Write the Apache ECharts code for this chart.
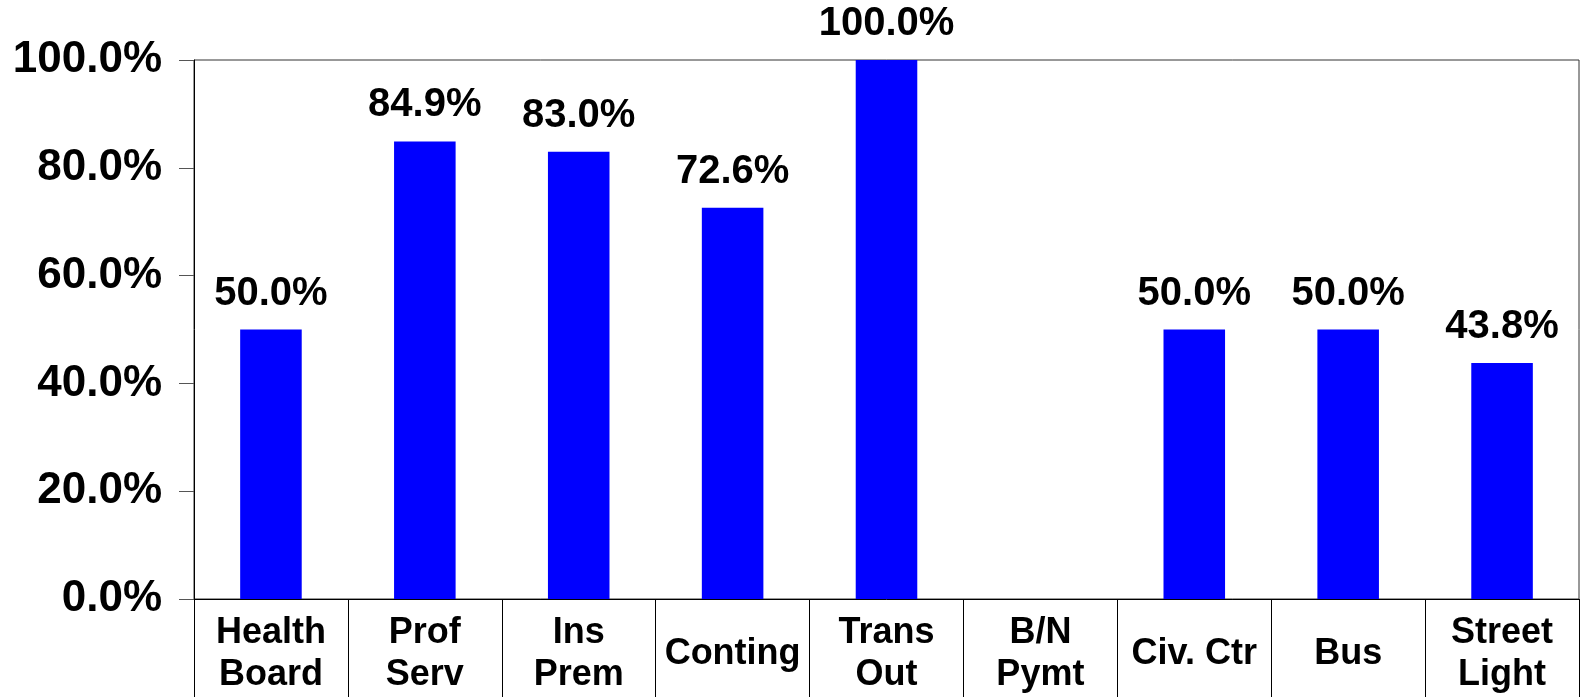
<!DOCTYPE html>
<html>
<head>
<meta charset="utf-8">
<script src="https://cdn.jsdelivr.net/npm/echarts@6/dist/echarts.min.js"></script>
<style>
  html, body { margin: 0; padding: 0; background: #fff; }
  #chart { width: 1585px; height: 697px; }
</style>
</head>
<body>
<div id="chart"></div>
<script>
// categories and values
const categories = ['Health\nBoard', 'Prof\nServ', 'Ins\nPrem', 'Conting', 'Trans\nOut', 'B/N\nPymt', 'Civ. Ctr', 'Bus', 'Street\nLight'];
const percentSpent = [50.0, 84.9, 83.0, 72.6, 100.0, null, 50.0, 50.0, 43.8];
const yTicks = [0, 20, 40, 60, 80, 100];

const font = '"Liberation Sans", Arial, sans-serif';

// single line labels get a taller line so they sit in the middle of the cell
const catData = categories.map(function (c) {
  if (c.indexOf('\n') >= 0) return c;
  return { value: c, textStyle: { lineHeight: 84 } };
});

let myChart = echarts.init(document.getElementById('chart'));
myChart.setOption({
  animation: false,
  backgroundColor: '#fff',
  grid: {
    left: 194, right: 6, top: 60, bottom: 98,
    show: true, borderColor: '#333', borderWidth: 1
  },
  xAxis: {
    type: 'category',
    data: catData,
    axisLine: { lineStyle: { color: '#000', width: 1 } },
    axisTick: { show: true, interval: 0, length: 98, lineStyle: { color: '#000' } },
    axisLabel: {
      interval: 0, margin: 13, color: '#000',
      fontFamily: font, fontWeight: 'bold', fontSize: 36, lineHeight: 42
    }
  },
  yAxis: {
    type: 'value',
    min: yTicks[0], max: yTicks[yTicks.length - 1], interval: 20,
    splitLine: { show: false },
    axisLine: { show: true, lineStyle: { color: '#000' } },
    axisTick: { show: true, length: 15, lineStyle: { color: '#555' } },
    axisLabel: {
      margin: 32, color: '#000',
      fontFamily: font, fontWeight: 'bold', fontSize: 44,
      formatter: function (v) { return v.toFixed(1) + '%'; }
    }
  },
  series: [{
    type: 'bar',
    data: percentSpent,
    barWidth: '40%',
    itemStyle: { color: '#0000ff' },
    label: {
      show: true, position: 'top', distance: 16, color: '#000',
      fontFamily: font, fontWeight: 'bold', fontSize: 40,
      formatter: function (p) { return p.value == null ? '' : p.value.toFixed(1) + '%'; }
    }
  }]
});
</script>
</body>
</html>
